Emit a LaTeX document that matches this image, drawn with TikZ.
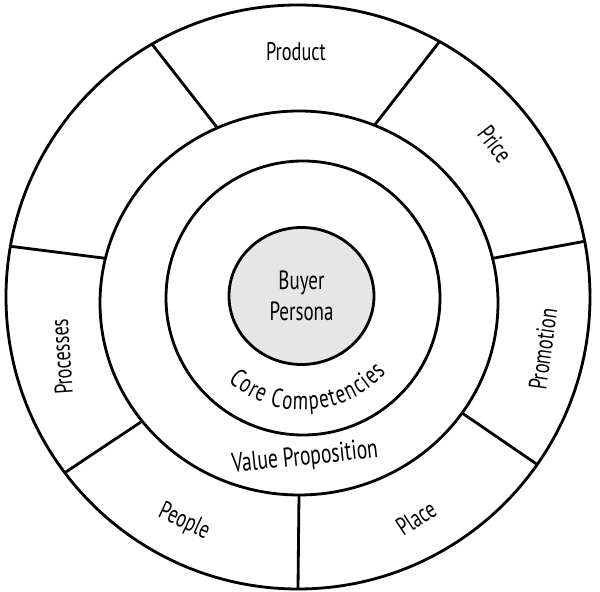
\documentclass[tikz,border=0pt]{standalone}
\usepackage{fontspec}
\setmainfont{PT Sans}[FakeStretch=0.72]
\usepackage{tikz}
\usetikzlibrary{shapes.geometric, decorations.text}

\begin{document}
\begin{tikzpicture}[anillo/.style={circle, draw, line width=1.6pt, inner sep=0pt, outer sep=0pt},
  etiqueta/.style={font=\fontsize{14.5}{16}\selectfont, inner sep=1pt},
  divisor/.style={line width=1.6pt}]
  \definecolor{grisClaro}{RGB}{230,230,230}
  \useasboundingbox (-6,-5.92) rectangle (6,5.92);

  \node[anillo, minimum size=11.68cm] (O) at (-0.04,-0.02) {};
  \node[anillo, ellipse, minimum width=7.96cm, minimum height=7.68cm] (V) at (-0.02,-0.14) {};
  \node[anillo, minimum size=5.48cm] (C) at (0.06,-0.04) {};
  \node[anillo, ellipse, fill=grisClaro, minimum width=2.9cm, minimum height=2.74cm,
    align=center, font=\fontsize{15}{18}\selectfont] (B) at (0.03,0) {Buyer\\Persona};

  \draw[divisor] (O.120) -- (V.115);
  \draw[divisor] (O.61) -- (V.67);
  \draw[divisor] (O.11) -- (V.13);
  \draw[divisor] (O.325) -- (V.326);
  \draw[divisor] (O.270) -- (V.270);
  \draw[divisor] (O.217) -- (V.217);
  \draw[divisor] (O.170) -- (V.167);

  \node[etiqueta] (product) at (-0.08,4.88) {Product};
  \node[etiqueta, rotate=-52] (price) at (3.9,3.04) {Price};
  \node[etiqueta, rotate=82] (promotion) at (4.86,-1.06) {Promotion};
  \node[etiqueta, rotate=33] (place) at (2.32,-4.44) {Place};
  \node[etiqueta, rotate=-25] (people) at (-2.32,-4.52) {People};
  \node[etiqueta, rotate=94] (processes) at (-4.77,-1.22) {Processes};
  \node[etiqueta, rotate=6, font=\fontsize{15.5}{17}\selectfont] (value) at (0.1,-3.24) {Value Proposition};

  \path[decorate, decoration={text along path, text align=fit to path,
    text={|\fontsize{15}{17}\selectfont|Core Competencies}}]
    ([shift={(228:2.24)}]C.center) arc[start angle=228, end angle=318, radius=2.24];
\end{tikzpicture}
\end{document}
